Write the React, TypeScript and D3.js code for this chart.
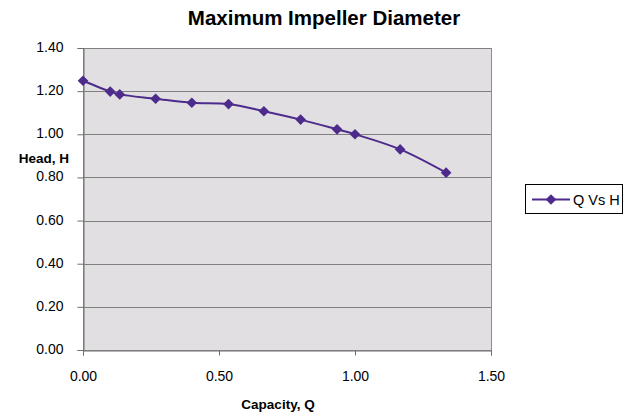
import React, { useEffect, useRef } from "react";
import * as d3 from "d3";

const capacity = [0, 0.1, 0.135, 0.267, 0.4, 0.535, 0.665, 0.8, 0.934, 1.0, 1.166, 1.335];
const head = [1.248, 1.198, 1.185, 1.165, 1.146, 1.14, 1.107, 1.068, 1.023, 1.0, 0.93, 0.822];
const xTicks = [0, 0.5, 1.0, 1.5];
const yTicks = [0, 0.2, 0.4, 0.6, 0.8, 1.0, 1.2, 1.4];
const seriesName = "Q Vs H";

const W = 644;
const H = 414;
const plot = { left: 83, right: 491, top: 48, bottom: 350 };
const lineColor = "#4d2b8c";
const font = "'Liberation Sans', Arial, Helvetica, sans-serif";

export default function App() {
  const ref = useRef<SVGSVGElement | null>(null);

  useEffect(() => {
    const svg = d3.select(ref.current);
    svg.selectAll("*").remove();

    const x = d3.scaleLinear().domain([0, 1.5]).range([plot.left, plot.right]);
    const y = d3.scaleLinear().domain([0, 1.4]).range([plot.bottom, plot.top]);

    svg.append("rect").attr("width", W).attr("height", H).attr("fill", "#fff");

    // plot area
    svg.append("rect")
      .attr("x", plot.left + 0.5).attr("y", plot.top + 0.5)
      .attr("width", plot.right - plot.left).attr("height", plot.bottom - plot.top)
      .attr("fill", "#e1dfe1").attr("stroke", "#8c8c8c").attr("stroke-width", 1);

    // horizontal gridlines
    svg.append("g").selectAll("line").data(yTicks.filter(t => t > 0)).join("line")
      .attr("x1", plot.left).attr("x2", plot.right)
      .attr("y1", d => Math.round(y(d)) + 0.5).attr("y2", d => Math.round(y(d)) + 0.5)
      .attr("stroke", "#808080").attr("stroke-width", 1);

    // axes
    const yAxis = svg.append("g").attr("transform", `translate(${plot.left + 0.5},0)`)
      .call(d3.axisLeft(y).tickValues(yTicks).tickFormat(d3.format(".2f")).tickSize(6).tickPadding(14));
    const xAxis = svg.append("g").attr("transform", `translate(0,${plot.bottom + 0.5})`)
      .call(d3.axisBottom(x).tickValues(xTicks).tickFormat(d3.format(".2f")).tickSize(5).tickPadding(16));
    [yAxis, xAxis].forEach(g => {
      g.select(".domain").attr("stroke", "#6e6e6e");
      g.selectAll(".tick line").attr("stroke", "#6e6e6e");
      g.selectAll("text").attr("font-family", font).attr("font-size", 14).attr("fill", "#000");
    });
    yAxis.selectAll("text").attr("dy", "0.25em");

    // series
    const pts: [number, number][] = capacity.map((c, i) => [c, head[i]]);
    const line = d3.line<[number, number]>()
      .x(d => x(d[0])).y(d => y(d[1]))
      .curve(d3.curveCatmullRom.alpha(0.5));
    svg.append("path").datum(pts).attr("d", line)
      .attr("fill", "none").attr("stroke", lineColor).attr("stroke-width", 2);

    const diamond = d3.symbol().type(d3.symbolDiamond2).size(72);
    svg.append("g").selectAll("path").data(pts).join("path")
      .attr("transform", d => `translate(${x(d[0])},${y(d[1])})`)
      .attr("d", diamond()).attr("fill", lineColor);

    // title and axis labels
    svg.append("text").attr("x", 324).attr("y", 25).attr("text-anchor", "middle")
      .attr("font-family", font).attr("font-weight", "bold").attr("font-size", 20.5)
      .text("Maximum Impeller Diameter");
    svg.append("text").attr("x", 44).attr("y", 163).attr("text-anchor", "middle")
      .attr("font-family", font).attr("font-weight", "bold").attr("font-size", 13.5)
      .text("Head, H");
    svg.append("text").attr("x", 278).attr("y", 409).attr("text-anchor", "middle")
      .attr("font-family", font).attr("font-weight", "bold").attr("font-size", 13.5)
      .text("Capacity, Q");

    // legend
    const lg = svg.append("g");
    lg.append("rect").attr("x", 525.5).attr("y", 184.5).attr("width", 97).attr("height", 29)
      .attr("fill", "#fff").attr("stroke", "#000").attr("stroke-width", 1);
    lg.append("line").attr("x1", 532).attr("x2", 570).attr("y1", 199.5).attr("y2", 199.5)
      .attr("stroke", lineColor).attr("stroke-width", 2);
    lg.append("path").attr("transform", "translate(551,199.5)").attr("d", diamond()).attr("fill", lineColor);
    lg.append("text").attr("x", 573).attr("y", 204.5).attr("font-family", font).attr("font-size", 14.5)
      .text(seriesName);
  }, []);

  return (
    <svg
      ref={ref}
      width={W}
      height={H}
      style={{ display: "block", position: "fixed", top: 0, left: 0 }}
    />
  );
}
